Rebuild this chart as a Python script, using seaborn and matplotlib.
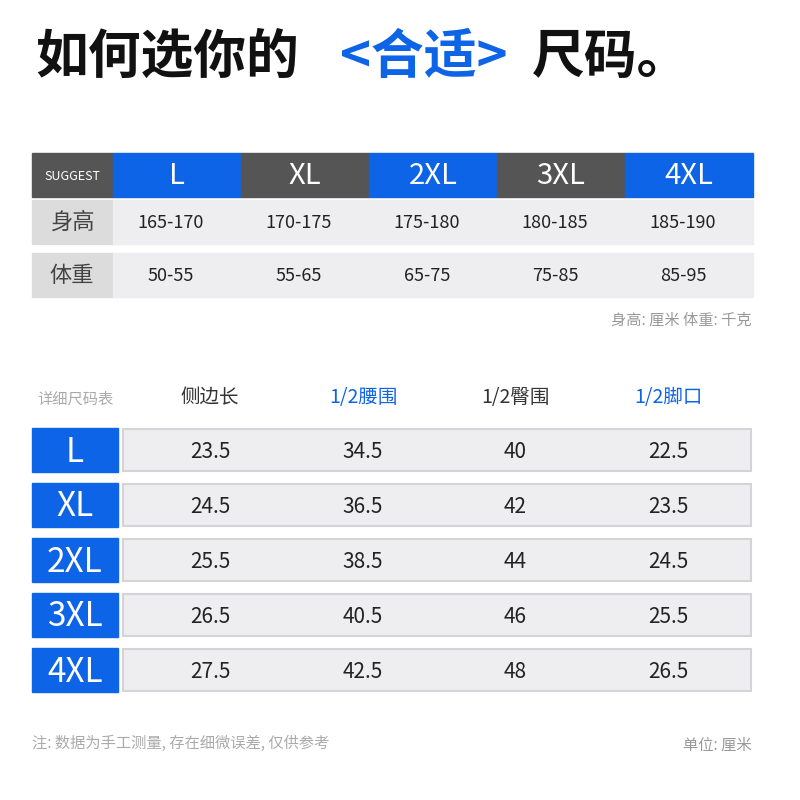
import matplotlib
matplotlib.use('Agg')
import matplotlib.pyplot as plt
import matplotlib.patches as patches
import seaborn as sns

sns.set_theme(style='white')
plt.rcParams['font.family'] = ['Noto Sans CJK SC', 'DejaVu Sans']

# 数据
sizes = ['L', 'XL', '2XL', '3XL', '4XL']
heights = ['165-170', '170-175', '175-180', '180-185', '185-190']
weights = ['50-55', '55-65', '65-75', '75-85', '85-95']
detail_cols = ['侧边长', '1/2腰围', '1/2臀围', '1/2脚口']
side_len = [23.5, 24.5, 25.5, 26.5, 27.5]
waist = [34.5, 36.5, 38.5, 40.5, 42.5]
hip = [40, 42, 44, 46, 48]
hem = [22.5, 23.5, 24.5, 25.5, 26.5]

BLUE = '#0e64e6'
DARK = '#555555'
LIGHT = '#eeeef0'
LABEL = '#dcdcdc'

fig = plt.figure(figsize=(8, 8), dpi=100)
ax = fig.add_axes([0, 0, 1, 1])
ax.set_xlim(0, 800)
ax.set_ylim(800, 0)
ax.axis('off')

# 标题
ax.text(35, 57, '如何选你的', fontsize=38, fontweight='bold', va='center', color='#111111')
ax.text(340, 57, '<合适>', fontsize=38, fontweight='bold', va='center', color=BLUE)
ax.text(532, 57, '尺码。', fontsize=38, fontweight='bold', va='center', color='#111111')

# 推荐表
ax.add_patch(patches.Rectangle((32, 153), 81, 44, color=DARK))
ax.text(72, 176, 'SUGGEST', fontsize=9, color='white', ha='center', va='center')
cw = 128
for i, s in enumerate(sizes):
    x0 = 113 + i * cw
    ax.add_patch(patches.Rectangle((x0, 153), cw, 44, color=BLUE if i % 2 == 0 else DARK))
    ax.text(x0 + cw / 2, 176, s, fontsize=21, color='white', ha='center', va='center')

for r, (lab, vals, y0) in enumerate([('身高', heights, 200), ('体重', weights, 253)]):
    ax.add_patch(patches.Rectangle((32, y0), 81, 44, color=LABEL))
    ax.text(72, y0 + 22, lab, fontsize=16, color='#444444', ha='center', va='center')
    ax.add_patch(patches.Rectangle((113, y0), 640, 44, color=LIGHT))
    for i, v in enumerate(vals):
        ax.text(113 + i * cw + cw / 2 - 6, y0 + 23, v, fontsize=13, color='#222222', ha='center', va='center')

ax.text(752, 320, '身高: 厘米 体重: 千克', fontsize=11, color='#999999', ha='right', va='center')

# 详细尺码表
col_x = [210, 363, 515, 668]
ax.text(75, 399, '详细尺码表', fontsize=11, color='#aaaaaa', ha='center', va='center')
for j, c in enumerate(detail_cols):
    ax.text(col_x[j], 398, c, fontsize=14, color=BLUE if j % 2 == 1 else '#333333',
            ha='center', va='center')

rows = list(zip(side_len, waist, hip, hem))
for i, s in enumerate(sizes):
    y0 = 428 + i * 55
    ax.add_patch(patches.Rectangle((32, y0), 86, 44, color=BLUE))
    ax.text(75, y0 + 24, s, fontsize=24, color='white', ha='center', va='center')
    ax.add_patch(patches.Rectangle((123, y0 + 1), 628, 42, facecolor=LIGHT,
                                   edgecolor='#d4d4d8', linewidth=1.5))
    for j, v in enumerate(rows[i]):
        ax.text(col_x[j], y0 + 24, f'{v:g}', fontsize=15, color='#222222', ha='center', va='center')

ax.text(32, 743, '注: 数据为手工测量, 存在细微误差, 仅供参考', fontsize=11, color='#aaaaaa', va='center')
ax.text(752, 745, '单位: 厘米', fontsize=11, color='#999999', ha='right', va='center')

fig.savefig('out.png', dpi=100, facecolor='white')
